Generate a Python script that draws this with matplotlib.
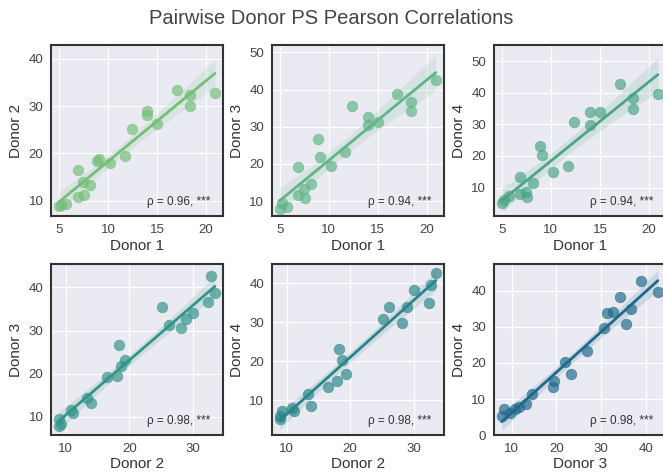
import numpy as np
import matplotlib
matplotlib.use("Agg")
import matplotlib.pyplot as plt
import seaborn as sns

# ==========================================
# DADOS
# ==========================================

donor_1 = [5.0, 5.2, 5.7, 6.9, 6.9, 7.5, 7.6, 8.2, 8.9, 9.1,
           10.2, 11.7, 12.4, 14.0, 14.0, 15.0, 17.0, 18.4, 18.4, 20.9]
donor_2 = [8.9, 9.0, 9.3, 16.5, 10.8, 13.9, 11.2, 13.3, 18.3, 18.7,
           18.0, 19.4, 25.2, 28.9, 28.2, 26.2, 33.5, 32.4, 30.1, 32.8]
donor_3 = [7.8, 9.6, 8.4, 19.3, 11.7, 13.3, 10.8, 14.5, 26.7, 21.8,
           19.4, 23.3, 35.5, 32.7, 30.6, 31.2, 38.8, 36.6, 34.1, 42.6]
donor_4 = [5.2, 6.0, 7.3, 13.4, 7.9, 8.5, 7.1, 11.5, 23.2, 20.2,
           14.9, 16.8, 30.7, 34.0, 29.7, 33.9, 42.7, 34.9, 38.3, 39.6]

donors = {"Donor 1": donor_1, "Donor 2": donor_2,
          "Donor 3": donor_3, "Donor 4": donor_4}

pairs = [("Donor 1", "Donor 2"), ("Donor 1", "Donor 3"), ("Donor 1", "Donor 4"),
         ("Donor 2", "Donor 3"), ("Donor 2", "Donor 4"), ("Donor 3", "Donor 4")]
rho_labels = ["0.96", "0.94", "0.94", "0.98", "0.98", "0.98"]
stars = ["***", "***", "***", "***", "***", "***"]

y_limites = [(6.7, 42.9), (6.0, 51.9), (1.0, 55.0), (5.8, 45.4), (1.0, 44.9), (0.0, 47.4)]

cores = ["#74bf78", "#5fb586", "#4aa585", "#35948a", "#2a8589", "#1f6a8a"]

# ==========================================
# ESTILO
# ==========================================

sns.set_style("darkgrid")
plt.rcParams["font.family"] = ["Liberation Sans", "DejaVu Sans"]


def ci_regressao(x, y, grid, fator=2.3):
    # banda de confiança analítica da reta ajustada
    x = np.asarray(x)
    y = np.asarray(y)
    b, a = np.polyfit(x, y, 1)
    resid = y - (a + b * x)
    n = len(x)
    s = np.sqrt(np.sum(resid ** 2) / (n - 2))
    sxx = np.sum((x - x.mean()) ** 2)
    pred = a + b * grid
    se = s * np.sqrt(1.0 / n + (grid - x.mean()) ** 2 / sxx)
    return pred, pred - fator * se, pred + fator * se


fig = plt.figure(figsize=(6.63, 4.76), dpi=100)

lefts = [0.077, 0.410, 0.745]
bottoms = [0.546, 0.086]
w, h = 0.259, 0.359

for i, (xn, yn) in enumerate(pairs):
    ax = fig.add_axes([lefts[i % 3], bottoms[i // 3], w, h])
    x = np.array(donors[xn])
    y = np.array(donors[yn])
    cor = cores[i]

    grid = np.linspace(x.min(), x.max(), 100)
    pred, lo, hi = ci_regressao(x, y, grid)

    ax.scatter(x, y, s=58, color=cor, alpha=0.68, edgecolor=cor, linewidth=0.5, zorder=3)
    ax.fill_between(grid, lo, hi, color=cor, alpha=0.15, linewidth=0, zorder=2)
    ax.plot(grid, pred, color=cor, linewidth=2, zorder=4)
    ax.set_ylim(*y_limites[i])

    ax.set_xlabel(xn, fontsize=11, color="#333333", labelpad=2)
    ax.set_ylabel(yn, fontsize=11, color="#333333", labelpad=4)
    ax.tick_params(labelsize=9.5, colors="#444444", pad=2)
    for sp in ax.spines.values():
        sp.set_visible(True)
        sp.set_color("#333333")
        sp.set_linewidth(1.5)

    ax.text(0.93, 0.05, f"\u03c1 = {rho_labels[i]}, {stars[i]}", transform=ax.transAxes,
            ha="right", va="bottom", fontsize=8.5, color="#333333")

fig.suptitle("Pairwise Donor PS Pearson Correlations", fontsize=14.5, color="#444444", y=0.982)

fig.savefig("out.png", dpi=100)
